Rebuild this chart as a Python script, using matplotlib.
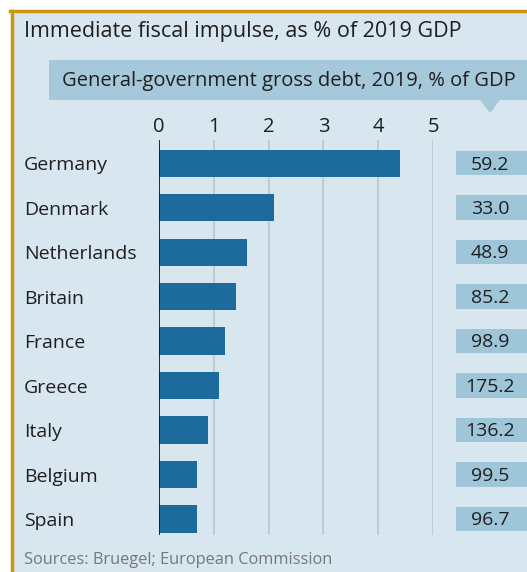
import matplotlib
matplotlib.use("Agg")
import matplotlib.pyplot as plt
from matplotlib.patches import Rectangle, Polygon

countries = ["Germany", "Denmark", "Netherlands", "Britain", "France",
             "Greece", "Italy", "Belgium", "Spain"]
impulse = [4.4, 2.1, 1.6, 1.4, 1.2, 1.1, 0.9, 0.7, 0.7]
debt = ["59.2", "33.0", "48.9", "85.2", "98.9", "175.2", "136.2", "99.5", "96.7"]
xticks = [0, 1, 2, 3, 4, 5]

title = "Immediate fiscal impulse, as % of 2019 GDP"
subtitle = "General-government gross debt, 2019, % of GDP"
source = "Sources: Bruegel; European Commission"

plt.rcParams['font.family'] = ['Open Sans', 'DejaVu Sans']

W, H = 527, 572
fig = plt.figure(figsize=(W / 100, H / 100), dpi=100)
fig.patch.set_facecolor("white")

bg = "#d7e6ef"
bar_c = "#1d6b9c"
box_c = "#9fc5d8"
text_c = "#1f1f1f"

def fx(px):
    return px / W

def fy(py):
    return 1 - py / H

# background panel with gold border on left/top
fig.patches.append(Rectangle((fx(11), 0), 1 - fx(11) + 0.01, fy(11), transform=fig.transFigure,
                             facecolor=bg, edgecolor="none", zorder=0))
fig.add_artist(plt.Line2D([fx(11.5), fx(11.5)], [0, fy(11)], transform=fig.transFigure,
                          color="#c9960f", lw=2.5, zorder=1))
fig.add_artist(plt.Line2D([fx(10.3), 1], [fy(10.5), fy(10.5)], transform=fig.transFigure,
                          color="#c9960f", lw=2.5, zorder=1))

# header box with pointer
fig.patches.append(Rectangle((fx(49), fy(100)), 1 - fx(49) + 0.01, fy(60) - fy(100),
                             transform=fig.transFigure, facecolor="#a5c8da",
                             edgecolor="none", zorder=1))
fig.patches.append(Polygon([(fx(480), fy(100)), (fx(500), fy(100)), (fx(490), fy(113))],
                           closed=True, transform=fig.transFigure, facecolor="#a5c8da",
                           edgecolor="none", zorder=1))

fig.text(fx(24), fy(32), title, fontsize=15.5, color=text_c, va="center", ha="left", zorder=2)
fig.text(fx(62), fy(81), subtitle, fontsize=14.5, color=text_c, va="center", ha="left", zorder=2)
fig.text(fx(24), fy(560), source, fontsize=11.8, color="#777777", va="center", ha="left", zorder=2)

# main axes: x from 159px (0) to 433px (5); y from 140 to 535px
ax = fig.add_axes([fx(159), fy(535), fx(433) - fx(159), fy(140) - fy(535)])
ax.set_zorder(5)
ax.set_facecolor("none")
ypos = list(range(len(countries)))
ax.barh(ypos, impulse, height=0.61, color=bar_c, zorder=3)
ax.set_xlim(0, 5)
ax.set_ylim(len(countries) - 1 + 0.36, -0.52)
for t in xticks:
    ax.axvline(t, color="#b8c6cf", lw=1.2, zorder=1)
ax.axvline(0, color="#1a1a1a", lw=1.3, zorder=4)
ax.xaxis.tick_top()
ax.set_xticks(xticks)
ax.set_xticklabels([str(t) for t in xticks], fontsize=14.5, color=text_c)
ax.tick_params(axis="x", length=0, pad=2)
ax.set_yticks([])
for s in ax.spines.values():
    s.set_visible(False)
for i, c in enumerate(countries):
    ax.annotate(c, xy=(fx(24), i), xycoords=("figure fraction", "data"),
                xytext=(0, -1.5), textcoords="offset points",
                fontsize=14.0, color=text_c, va="center", ha="left", annotation_clip=False)

# right column of debt boxes
ax2 = fig.add_axes([fx(456), fy(535), 1 - fx(456), fy(140) - fy(535)], sharey=ax)
ax2.set_zorder(5)
ax2.set_facecolor("none")
ax2.barh(ypos, [1] * len(countries), height=0.55, color=box_c, zorder=2)
ax2.set_xlim(0, 1.0)
for i, d in enumerate(debt):
    ax2.annotate(d, xy=(0.48, i), xytext=(0, -1), textcoords="offset points",
                 fontsize=14.0, color=text_c, va="center", ha="center", zorder=3)
ax2.axis("off")

fig.savefig("out.png", dpi=100, facecolor="white")
